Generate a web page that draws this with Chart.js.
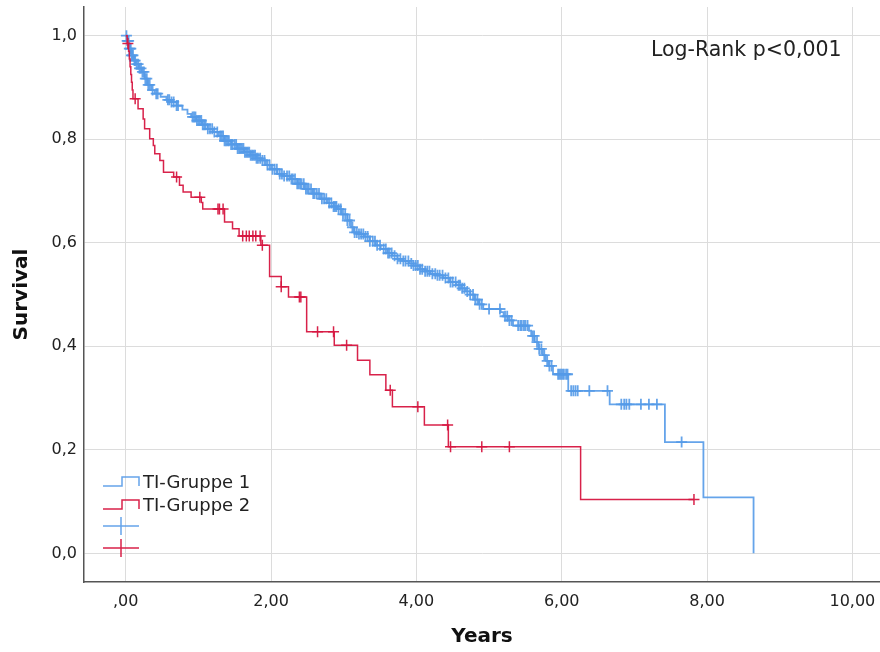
<!DOCTYPE html>
<html>
<head>
<meta charset="utf-8">
<script src="https://cdn.jsdelivr.net/npm/chart.js@4"></script>
<style>
  body { margin: 0; background: #fff; overflow: hidden; }
  #wrap { width: 880px; height: 652px; }
  canvas { display: block; }
</style>
</head>
<body>
<div id="wrap"><canvas id="kmChart" width="880" height="652"></canvas></div>
<script>
// Kaplan-Meier Stufen: Zeitpunkt (Jahre) und Überleben danach
const blueT = [0.00, 0.02, 0.05, 0.08, 0.11, 0.14, 0.18, 0.22, 0.26, 0.30, 0.35, 0.40, 0.48, 0.56, 0.63, 0.70, 0.78, 0.85, 0.90, 0.97,
  1.05, 1.13, 1.20, 1.28, 1.36, 1.45, 1.54, 1.63, 1.72, 1.80, 1.86, 1.93, 2.00, 2.09, 2.18, 2.27, 2.36, 2.46, 2.57, 2.68,
  2.78, 2.86, 2.91, 2.97, 3.05, 3.10, 3.14, 3.21, 3.28, 3.36, 3.44, 3.51, 3.60, 3.67, 3.74, 3.82, 3.90, 3.96, 4.05, 4.12,
  4.19, 4.28, 4.37, 4.46, 4.55, 4.62, 4.68, 4.74, 4.80, 4.86, 4.92, 5.16, 5.20, 5.26, 5.33, 5.55, 5.58, 5.63, 5.68, 5.74,
  5.78, 5.82, 5.88, 6.09, 6.66, 7.42, 7.95, 8.64];
const blueS = [1.000, 0.990, 0.975, 0.962, 0.952, 0.945, 0.937, 0.930, 0.917, 0.905, 0.895, 0.888, 0.882, 0.876, 0.872, 0.865, 0.857, 0.849, 0.843, 0.836,
  0.828, 0.820, 0.814, 0.806, 0.797, 0.790, 0.782, 0.775, 0.769, 0.763, 0.759, 0.750, 0.742, 0.733, 0.729, 0.723, 0.714, 0.704, 0.695, 0.685,
  0.677, 0.670, 0.665, 0.655, 0.643, 0.630, 0.620, 0.617, 0.612, 0.603, 0.595, 0.588, 0.580, 0.575, 0.569, 0.565, 0.560, 0.556, 0.549, 0.545,
  0.540, 0.537, 0.532, 0.524, 0.518, 0.512, 0.506, 0.500, 0.490, 0.481, 0.472, 0.466, 0.458, 0.450, 0.440, 0.430, 0.420, 0.408, 0.395, 0.383,
  0.372, 0.362, 0.346, 0.314, 0.288, 0.215, 0.108, 0.000];

const redT = [0.00, 0.02, 0.04, 0.05, 0.06, 0.07, 0.08, 0.09, 0.10, 0.17, 0.24, 0.26, 0.33, 0.38, 0.40, 0.47, 0.52, 0.66, 0.74, 0.79,
  0.90, 1.04, 1.06, 1.36, 1.47, 1.56, 1.86, 1.98, 2.14, 2.24, 2.49, 2.87, 3.19, 3.36, 3.58, 3.67, 4.11, 4.44, 6.26, 7.82];
const redS = [1.000, 0.985, 0.970, 0.955, 0.940, 0.925, 0.910, 0.895, 0.878, 0.859, 0.839, 0.820, 0.801, 0.788, 0.772, 0.759, 0.736, 0.727, 0.711, 0.698,
  0.688, 0.678, 0.665, 0.640, 0.627, 0.613, 0.595, 0.535, 0.515, 0.495, 0.428, 0.402, 0.373, 0.345, 0.315, 0.283, 0.248, 0.206, 0.104, 0.104];

// zensierte Fälle (Zeitpunkte)
const blueCensorT = [0.01, 0.02, 0.03, 0.04, 0.05, 0.06, 0.07, 0.08, 0.09, 0.10, 0.12, 0.13, 0.15, 0.17, 0.19, 0.21, 0.23, 0.25, 0.27, 0.29,
  0.31, 0.33, 0.37, 0.42, 0.44, 0.58, 0.60, 0.63, 0.66, 0.70, 0.72, 0.92, 0.94, 0.96, 0.98, 1.00, 1.02, 1.04, 1.06, 1.08,
  1.10, 1.13, 1.16, 1.19, 1.22, 1.26, 1.30, 1.32, 1.34, 1.36, 1.38, 1.40, 1.42, 1.45, 1.47, 1.50, 1.52, 1.54, 1.56, 1.58,
  1.60, 1.62, 1.64, 1.66, 1.68, 1.70, 1.72, 1.74, 1.76, 1.78, 1.80, 1.82, 1.85, 1.88, 1.91, 1.95, 1.98, 2.02, 2.05, 2.08,
  2.12, 2.15, 2.18, 2.22, 2.25, 2.28, 2.30, 2.33, 2.36, 2.38, 2.40, 2.42, 2.45, 2.48, 2.50, 2.52, 2.55, 2.58, 2.60, 2.63,
  2.66, 2.70, 2.73, 2.76, 2.80, 2.83, 2.86, 2.88, 2.90, 2.93, 2.96, 2.99, 3.02, 3.05, 3.08, 3.12, 3.15, 3.18, 3.21, 3.24,
  3.27, 3.30, 3.33, 3.36, 3.40, 3.43, 3.46, 3.50, 3.55, 3.58, 3.61, 3.63, 3.66, 3.70, 3.74, 3.78, 3.82, 3.85, 3.89, 3.93,
  3.96, 3.99, 4.02, 4.05, 4.08, 4.12, 4.15, 4.18, 4.22, 4.26, 4.29, 4.32, 4.36, 4.40, 4.44, 4.47, 4.50, 4.54, 4.58, 4.60,
  4.63, 4.66, 4.70, 4.74, 4.78, 4.81, 4.84, 4.87, 4.90, 5.00, 5.15, 5.22, 5.25, 5.28, 5.31, 5.40, 5.43, 5.45, 5.48, 5.50,
  5.53, 5.60, 5.62, 5.66, 5.69, 5.72, 5.76, 5.80, 5.83, 5.86, 5.95, 5.97, 5.99, 6.01, 6.03, 6.06, 6.08, 6.13, 6.16, 6.19,
  6.22, 6.38, 6.63, 6.82, 6.86, 6.89, 6.93, 7.09, 7.20, 7.31, 7.65];
const redCensorT = [0.03, 0.13, 0.70, 1.02, 1.27, 1.29, 1.34, 1.61, 1.66, 1.70, 1.75, 1.79, 1.85, 1.88, 2.14, 2.39, 2.41, 2.64, 2.86, 3.04,
  3.64, 4.02, 4.43, 4.47, 4.90, 5.28, 7.82];

const xTicks = [0, 2, 4, 6, 8, 10];
const yTicks = [0, 0.2, 0.4, 0.6, 0.8, 1.0];

const blueColor = 'rgba(84, 154, 232, 0.9)';
const redColor = 'rgba(214, 22, 64, 0.95)';

function steps(ts, ss) {
  return ts.map((t, i) => ({ x: t, y: ss[i] }));
}
// Überlebenswert der Kurve zum Zeitpunkt c
function survAt(ts, ss, c) {
  let v = ss[0];
  for (let i = 0; i < ts.length; i++) {
    if (ts[i] <= c) v = ss[i];
  }
  return v;
}
function censors(cs, ts, ss) {
  return cs.map(c => ({ x: c, y: survAt(ts, ss, c) }));
}

const fmtComma = (v, d) => {
  const s = v.toFixed(d).replace('.', ',');
  return s.startsWith('0,') && d === 2 ? s.slice(1) : s;
};

// Legende und Log-Rank Text
const extrasPlugin = {
  id: 'extras',
  afterDraw(chart) {
    const ctx = chart.ctx;
    ctx.save();
    ctx.lineWidth = 1.5;
    // Stufen-Symbole
    [[blueColor, 486, 477], [redColor, 509, 500]].forEach(([c, lo, hi]) => {
      ctx.strokeStyle = c;
      ctx.beginPath();
      ctx.moveTo(103, lo);
      ctx.lineTo(122, lo);
      ctx.lineTo(122, hi);
      ctx.lineTo(139, hi);
      ctx.lineTo(139, lo);
      ctx.stroke();
    });
    // Kreuz-Symbole
    [[blueColor, 526], [redColor, 548]].forEach(([c, y]) => {
      ctx.strokeStyle = c;
      ctx.beginPath();
      ctx.moveTo(103, y);
      ctx.lineTo(139, y);
      ctx.moveTo(121, y - 9);
      ctx.lineTo(121, y + 9);
      ctx.stroke();
    });
    ctx.fillStyle = '#222';
    ctx.font = '18px "DejaVu Sans"';
    ctx.textBaseline = 'middle';
    ctx.textAlign = 'left';
    ctx.fillText('TI-Gruppe 1', 143, 483);
    ctx.fillText('TI-Gruppe 2', 143, 506);
    ctx.font = '20.5px "DejaVu Sans"';
    ctx.fillText('Log-Rank p<0,001', 651, 51);
    ctx.restore();
  }
};

new Chart(document.getElementById('kmChart'), {
  type: 'line',
  data: {
    datasets: [
      {
        label: 'TI-Gruppe 1',
        data: steps(blueT, blueS),
        borderColor: blueColor,
        borderWidth: 1.8,
        stepped: 'before',
        pointRadius: 0,
        fill: false,
        order: 3
      },
      {
        label: 'TI-Gruppe 2',
        data: steps(redT, redS),
        borderColor: redColor,
        borderWidth: 1.5,
        stepped: 'before',
        pointRadius: 0,
        fill: false,
        order: 1
      },
      {
        label: 'Zensiert 1',
        data: censors(blueCensorT, blueT, blueS),
        showLine: false,
        pointStyle: 'cross',
        pointRadius: 5.5,
        pointBorderWidth: 1.8,
        borderColor: blueColor,
        backgroundColor: blueColor,
        order: 2
      },
      {
        label: 'Zensiert 2',
        data: censors(redCensorT, redT, redS),
        showLine: false,
        pointStyle: 'cross',
        pointRadius: 5.5,
        pointBorderWidth: 1.5,
        borderColor: redColor,
        backgroundColor: redColor,
        order: 0
      }
    ]
  },
  options: {
    responsive: false,
    animation: false,
    devicePixelRatio: 1,
    layout: { autoPadding: false, padding: { top: 7, right: 0, left: 0, bottom: 0 } },
    plugins: {
      legend: { display: false },
      tooltip: { enabled: false }
    },
    scales: {
      x: {
        type: 'linear',
        min: -0.574,
        max: 10.38,
        afterFit: s => {
          s.height = 70;
          s.paddingLeft = 0;
          s.paddingRight = 0;
        },
        afterBuildTicks: s => { s.ticks = xTicks.map(v => ({ value: v })); },
        ticks: {
          padding: 10,
          color: '#222',
          font: { family: 'DejaVu Sans', size: 16 },
          callback: v => fmtComma(v, 2)
        },
        grid: { color: '#dcdcdc', lineWidth: 1, drawTicks: false },
        border: { color: '#555', width: 1.5 },
        title: {
          display: true,
          text: 'Years',
          color: '#111',
          font: { family: 'DejaVu Sans', size: 20, weight: 'bold' },
          padding: { top: 0, bottom: 3 }
        }
      },
      y: {
        min: -0.0553,
        max: 1.0554,
        afterFit: s => {
          s.width = 84;
          s.paddingTop = 0;
          s.paddingBottom = 0;
        },
        afterBuildTicks: s => { s.ticks = yTicks.map(v => ({ value: v })); },
        ticks: {
          padding: 7,
          color: '#222',
          font: { family: 'DejaVu Sans', size: 16 },
          callback: v => fmtComma(v, 1)
        },
        grid: { color: '#dcdcdc', lineWidth: 1, drawTicks: false },
        border: { color: '#555', width: 1.5 },
        title: {
          display: true,
          text: 'Survival',
          color: '#111',
          font: { family: 'DejaVu Sans', size: 20, weight: 'bold' },
          padding: { top: 10, bottom: 0 }
        }
      }
    }
  },
  plugins: [extrasPlugin]
});
</script>
</body>
</html>
